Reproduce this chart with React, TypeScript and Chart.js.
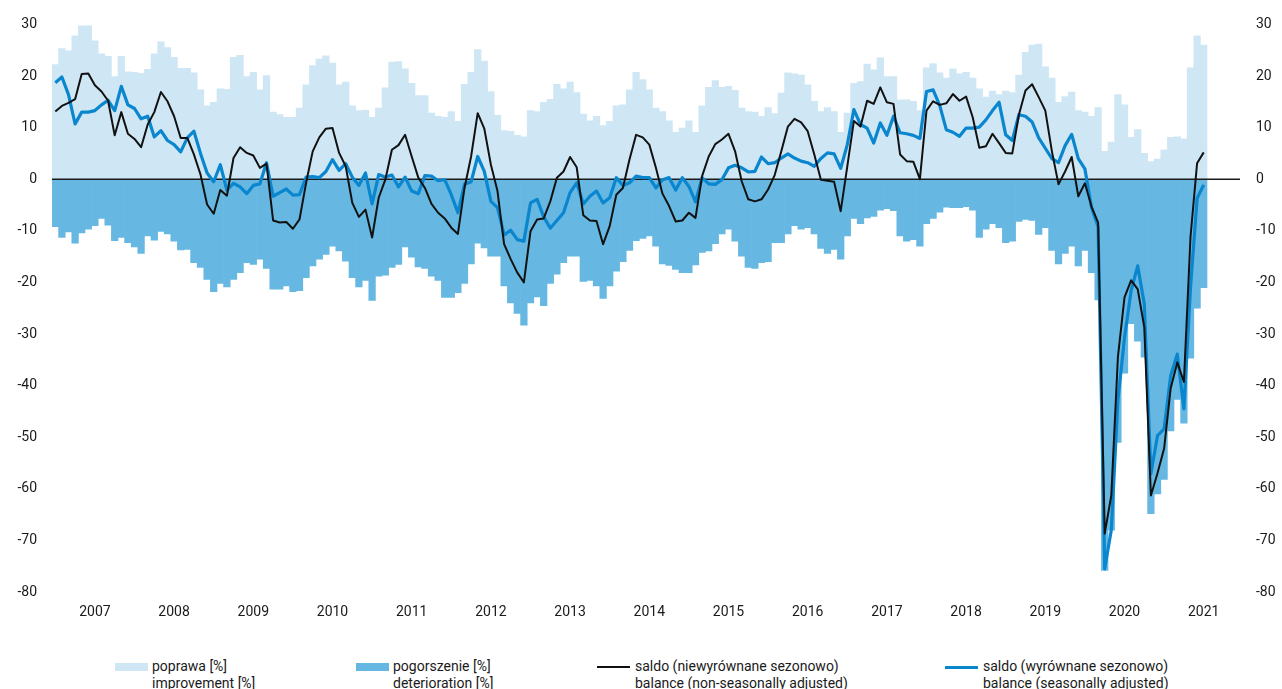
import React, { useEffect, useRef } from 'react';
import { Chart, registerables } from 'chart.js';

Chart.register(...registerables);

// ---- categories ----
const FIRST_YEAR = 2007;
const yearLabels = ['2007', '2008', '2009', '2010', '2011', '2012', '2013', '2014', '2015', '2016', '2017', '2018', '2019', '2020', '2021'];
const months: string[] = [];
yearLabels.forEach((y) => {
  for (let m = 1; m <= 12; m++) months.push(`${y}-${m < 10 ? '0' + m : m}`);
});

// ---- series (monthly, Jan 2007 – Jul 2021) ----
const improvement = [
  22.2, 25.3, 24.9, 27.8, 29.7, 29.7, 26.8, 24.3, 23.8, 19.9, 23.8, 20.8,
  20.7, 20.5, 21.3, 24.3, 26.6, 25.5, 23.6, 21.5, 21.5, 20.6, 17.3, 14.2,
  14.9, 17.5, 17.4, 23.6, 24.0, 19.9, 20.7, 17.3, 20.1, 13.0, 12.5, 12.0,
  12.0, 13.8, 18.3, 22.0, 23.3, 23.9, 22.5, 18.3, 18.8, 14.2, 13.3, 13.4,
  12.0, 13.8, 17.7, 22.7, 22.8, 21.4, 18.6, 16.2, 16.2, 12.8, 12.2, 12.0,
  13.1, 11.2, 18.4, 20.7, 25.1, 22.9, 17.0, 12.4, 9.4, 9.3, 8.5, 8.2,
  13.3, 13.1, 14.9, 15.5, 18.4, 17.5, 18.8, 16.8, 12.6, 11.3, 12.2, 10.4,
  11.2, 14.2, 14.4, 17.3, 20.7, 19.3, 17.3, 13.8, 13.1, 11.3, 9.1, 9.9,
  11.3, 9.1, 14.2, 17.8, 19.1, 17.8, 18.0, 17.2, 13.8, 13.1, 13.0, 12.2,
  13.9, 12.7, 16.7, 20.6, 20.4, 20.2, 18.3, 15.1, 13.1, 13.9, 13.1, 9.1,
  12.8, 18.6, 18.9, 22.3, 21.2, 23.5, 19.9, 19.9, 15.4, 15.4, 15.1, 13.3,
  21.6, 22.4, 20.6, 19.6, 21.4, 20.4, 20.7, 19.6, 17.5, 15.9, 17.1, 16.4,
  17.1, 16.8, 20.2, 24.6, 26.0, 26.2, 21.8, 19.6, 14.9, 16.0, 16.9, 13.3,
  13.0, 12.2, 13.9, 5.4, 7.2, 16.4, 14.4, 8.1, 9.6, 5.0, 3.4, 3.9,
  5.7, 8.1, 8.2, 7.8, 21.6, 27.8, 26.0,
];

const deterioration = [
  -9.2, -11.3, -10.2, -12.4, -10.4, -9.7, -9.0, -7.6, -8.9, -11.9, -11.3, -12.3,
  -13.1, -14.4, -11.0, -11.8, -10.1, -10.6, -12.0, -13.7, -13.6, -16.2, -17.1, -19.4,
  -21.8, -20.2, -20.9, -19.4, -18.1, -16.2, -16.5, -15.5, -17.3, -21.3, -21.3, -20.7,
  -21.8, -21.6, -19.1, -16.8, -15.5, -14.6, -13.0, -13.9, -15.9, -19.1, -20.9, -19.6,
  -23.5, -18.8, -18.6, -17.1, -16.5, -13.1, -15.1, -17.0, -17.3, -18.8, -19.6, -22.9,
  -22.9, -22.0, -20.2, -16.4, -12.4, -13.3, -14.9, -14.9, -20.7, -24.0, -26.0, -28.3,
  -24.0, -22.8, -24.5, -20.2, -18.4, -16.2, -14.9, -14.9, -19.8, -19.6, -20.7, -23.1,
  -20.7, -17.8, -16.0, -13.8, -11.9, -11.5, -11.0, -13.0, -16.4, -16.7, -17.5, -18.1,
  -18.1, -16.6, -14.2, -13.9, -12.5, -10.6, -9.7, -12.0, -14.9, -17.1, -17.3, -16.2,
  -16.0, -12.3, -12.3, -10.6, -9.0, -9.7, -9.4, -10.6, -13.4, -14.4, -13.6, -15.5,
  -11.0, -7.6, -8.6, -7.5, -7.2, -6.0, -5.7, -6.1, -11.0, -12.0, -11.7, -13.0,
  -8.6, -7.6, -6.4, -5.4, -5.5, -5.5, -5.3, -6.0, -11.3, -9.7, -8.6, -9.4,
  -12.3, -12.0, -8.2, -7.8, -8.0, -10.7, -9.4, -13.8, -16.4, -14.4, -13.0, -16.8,
  -13.8, -18.1, -23.4, -75.8, -68.0, -51.0, -37.6, -28.0, -31.4, -34.5, -64.8, -61.0,
  -58.2, -48.8, -42.7, -47.3, -34.7, -25.0, -21.0,
];

const balanceNSA = [
  13.1, 14.2, 14.8, 15.5, 20.4, 20.5, 18.2, 17.0, 15.2, 8.5, 13.0, 8.8,
  7.8, 6.2, 10.6, 13.0, 16.9, 15.1, 12.2, 8.0, 8.0, 4.8, 0.9, -4.9,
  -6.7, -2.1, -3.2, 4.1, 6.2, 5.1, 4.6, 2.2, 3.0, -8.0, -8.4, -8.3,
  -9.6, -7.8, -0.7, 5.4, 8.1, 9.8, 9.9, 5.1, 2.5, -4.6, -7.3, -5.9,
  -11.3, -3.6, -0.1, 5.7, 6.6, 8.6, 4.4, 0.3, -1.7, -4.8, -6.5, -7.6,
  -9.4, -10.6, -1.7, 4.4, 12.8, 9.8, 2.8, -2.3, -12.6, -15.5, -18.1, -20.0,
  -10.1, -7.8, -7.6, -4.3, 0.3, 1.5, 4.3, 2.3, -7.0, -8.0, -8.1, -12.6,
  -9.1, -3.0, -1.7, 3.8, 8.6, 8.1, 6.7, 2.2, -2.8, -5.2, -8.2, -8.0,
  -6.5, -7.5, 0.6, 4.4, 6.8, 7.7, 8.8, 5.4, -0.4, -3.9, -4.3, -3.9,
  -2.0, 0.8, 5.4, 10.2, 11.7, 11.0, 9.3, 4.8, -0.1, -0.3, -0.5, -6.2,
  2.5, 11.3, 10.2, 15.2, 14.6, 17.8, 14.9, 14.6, 4.8, 3.5, 3.4, 0.0,
  13.3, 15.1, 14.4, 14.7, 16.5, 15.2, 16.0, 12.0, 6.1, 6.4, 8.8, 7.0,
  5.1, 5.0, 12.5, 17.2, 18.4, 15.9, 13.3, 5.4, -1.0, 1.5, 4.3, -3.3,
  -0.8, -5.3, -8.4, -68.7, -61.3, -34.5, -22.9, -19.6, -21.3, -28.7, -61.3, -57.0,
  -52.2, -40.5, -35.5, -39.3, -11.2, 3.1, 5.2,
];

const balanceSA = [
  18.7, 19.8, 16.4, 10.7, 13.0, 13.0, 13.3, 14.4, 15.3, 13.3, 18.0, 14.4,
  13.7, 11.7, 12.2, 8.2, 9.4, 7.5, 6.7, 5.3, 8.0, 9.3, 5.0, 1.2,
  -0.5, 2.8, -2.1, -0.8, -1.5, -2.8, -1.2, -0.9, 3.2, -3.3, -2.6, -1.9,
  -3.1, -3.0, 0.4, 0.5, 0.3, 1.5, 3.8, 1.7, 3.0, 0.4, -1.2, 1.2,
  -4.8, 0.9, 0.4, 0.8, -1.5, 0.4, -2.3, -2.8, 0.7, 0.6, -0.3, -0.1,
  -3.0, -6.5, -1.0, -0.5, 4.4, 1.5, -4.3, -5.5, -10.8, -9.9, -11.7, -12.0,
  -4.6, -3.9, -7.3, -9.5, -8.0, -6.5, -2.6, -0.7, -4.8, -3.3, -2.3, -4.6,
  -3.6, 0.3, -1.2, -0.7, 0.6, 0.3, 0.3, -1.7, -0.1, 0.3, -2.1, 0.3,
  -1.4, -4.4, 0.3, -0.9, -1.0, -0.1, 2.2, 2.7, 2.2, 1.4, 1.5, 4.3,
  3.0, 3.2, 4.1, 4.9, 4.1, 3.5, 3.2, 2.5, 4.0, 5.1, 4.9, 2.1,
  6.7, 13.5, 10.6, 9.9, 7.0, 10.9, 8.5, 12.2, 9.0, 8.8, 8.5, 7.9,
  17.0, 17.3, 14.3, 9.6, 9.1, 8.3, 9.9, 9.9, 10.1, 11.5, 13.3, 14.9,
  8.6, 7.5, 12.5, 12.2, 11.1, 8.0, 6.0, 4.0, 3.2, 6.5, 8.7, 4.0,
  2.0, -5.5, -9.2, -75.5, -68.0, -42.9, -30.7, -21.6, -16.8, -24.2, -57.1, -49.7,
  -48.4, -38.1, -33.9, -44.5, -21.0, -3.7, -1.1,
];

const legendItems = [
  { kind: 'box', color: '#cfe7f5', lines: ['poprawa [%]', 'improvement [%]'], left: 115 },
  { kind: 'box', color: '#66b8e2', lines: ['pogorszenie [%]', 'deterioration [%]'], left: 356 },
  { kind: 'line', color: '#111111', lines: ['saldo (niewyrównane sezonowo)', 'balance (non-seasonally adjusted)'], left: 597 },
  { kind: 'line', color: '#0a86cf', lines: ['saldo (wyrównane sezonowo)', 'balance (seasonally adjusted)'], left: 945 },
];

const FONT = 'Roboto, "Noto Sans", sans-serif';
const TEXT = '#1a1a1a';

const zeroLinePlugin = {
  id: 'zeroLine',
  afterDatasetDraw(chart: any, args: any) {
    if (args.index !== 2) return;
    const { ctx, chartArea } = chart;
    const y = chart.scales.y.getPixelForValue(0);
    ctx.save();
    ctx.strokeStyle = '#1a1a1a';
    ctx.lineWidth = 1.5;
    ctx.beginPath();
    ctx.moveTo(chartArea.left, y);
    ctx.lineTo(chartArea.right, y);
    ctx.stroke();
    ctx.restore();
  },
};

export default function App() {
  const ref = useRef<HTMLCanvasElement | null>(null);

  useEffect(() => {
    if (!ref.current) return;
    const tickFont = { family: FONT, size: 14 };
    const chart = new Chart(ref.current, {
      type: 'bar',
      data: {
        labels: months,
        datasets: [
          {
            type: 'line',
            label: 'saldo NSA',
            data: balanceNSA,
            borderColor: '#111111',
            borderWidth: 2,
            pointRadius: 0,
            tension: 0,
            borderJoinStyle: 'round',
            order: 0,
          } as any,
          {
            type: 'line',
            label: 'saldo SA',
            data: balanceSA,
            borderColor: '#0a86cf',
            borderWidth: 3.2,
            pointRadius: 0,
            tension: 0,
            borderJoinStyle: 'round',
            order: 1,
          } as any,
          {
            type: 'bar',
            label: 'poprawa',
            data: improvement,
            backgroundColor: '#cfe7f5',
            borderWidth: 0,
            grouped: false,
            categoryPercentage: 1,
            barPercentage: 1,
            order: 2,
          } as any,
          {
            type: 'bar',
            label: 'pogorszenie',
            data: deterioration,
            backgroundColor: '#66b8e2',
            borderWidth: 0,
            grouped: false,
            categoryPercentage: 1,
            barPercentage: 1,
            order: 3,
          } as any,
        ],
      },
      options: {
        responsive: false,
        maintainAspectRatio: false,
        animation: false,
        devicePixelRatio: 1,
        layout: { padding: { top: 23, left: 0, right: 0, bottom: 0 } },
        plugins: { legend: { display: false }, tooltip: { enabled: false } },
        scales: {
          x: {
            type: 'category',
            offset: true,
            grid: { display: false, drawTicks: false },
            border: { display: false },
            ticks: {
              autoSkip: false,
              maxRotation: 0,
              minRotation: 0,
              padding: 12,
              color: TEXT,
              font: tickFont,
              callback: (_v: any, i: number) => (i % 12 === 6 ? yearLabels[Math.floor(i / 12)] : null),
            },
            afterFit: (s: any) => {
              s.height = 48;
            },
          },
          y: {
            position: 'left',
            min: -80,
            max: 30,
            grid: { display: false, drawTicks: false },
            border: { display: false },
            ticks: { stepSize: 10, padding: 15, color: TEXT, font: tickFont },
            afterFit: (s: any) => {
              s.width = 52;
            },
          },
          y2: {
            position: 'right',
            min: -80,
            max: 30,
            grid: { display: false, drawTicks: false },
            border: { display: false },
            ticks: { stepSize: 10, padding: 16, color: TEXT, font: tickFont },
            afterFit: (s: any) => {
              s.width = 42;
            },
          },
        },
      } as any,
      plugins: [zeroLinePlugin],
    });
    return () => chart.destroy();
  }, []);

  return (
    <div style={{ position: 'absolute', left: 0, top: 0, width: 1282, height: 720, background: '#fff' }}>
      <canvas ref={ref} width={1282} height={640} style={{ display: 'block', width: 1282, height: 640 }} />
      {legendItems.map((it) => (
        <div
          key={it.lines[0]}
          style={{
            position: 'absolute',
            left: it.left,
            top: 658,
            display: 'flex',
            alignItems: 'flex-start',
            fontFamily: FONT,
            fontSize: 14,
            lineHeight: '17px',
            color: TEXT,
            whiteSpace: 'nowrap',
          }}
        >
          <span
            style={{
              display: 'inline-block',
              width: 33,
              height: it.kind === 'box' ? 8 : it.color === '#111111' ? 2.5 : 3,
              marginTop: it.kind === 'box' ? 5 : 7.5,
              marginRight: it.kind === 'box' ? 4 : 5,
              background: it.color,
            }}
          />
          <div>
            {it.lines.map((l) => (
              <div key={l}>{l}</div>
            ))}
          </div>
        </div>
      ))}
    </div>
  );
}
